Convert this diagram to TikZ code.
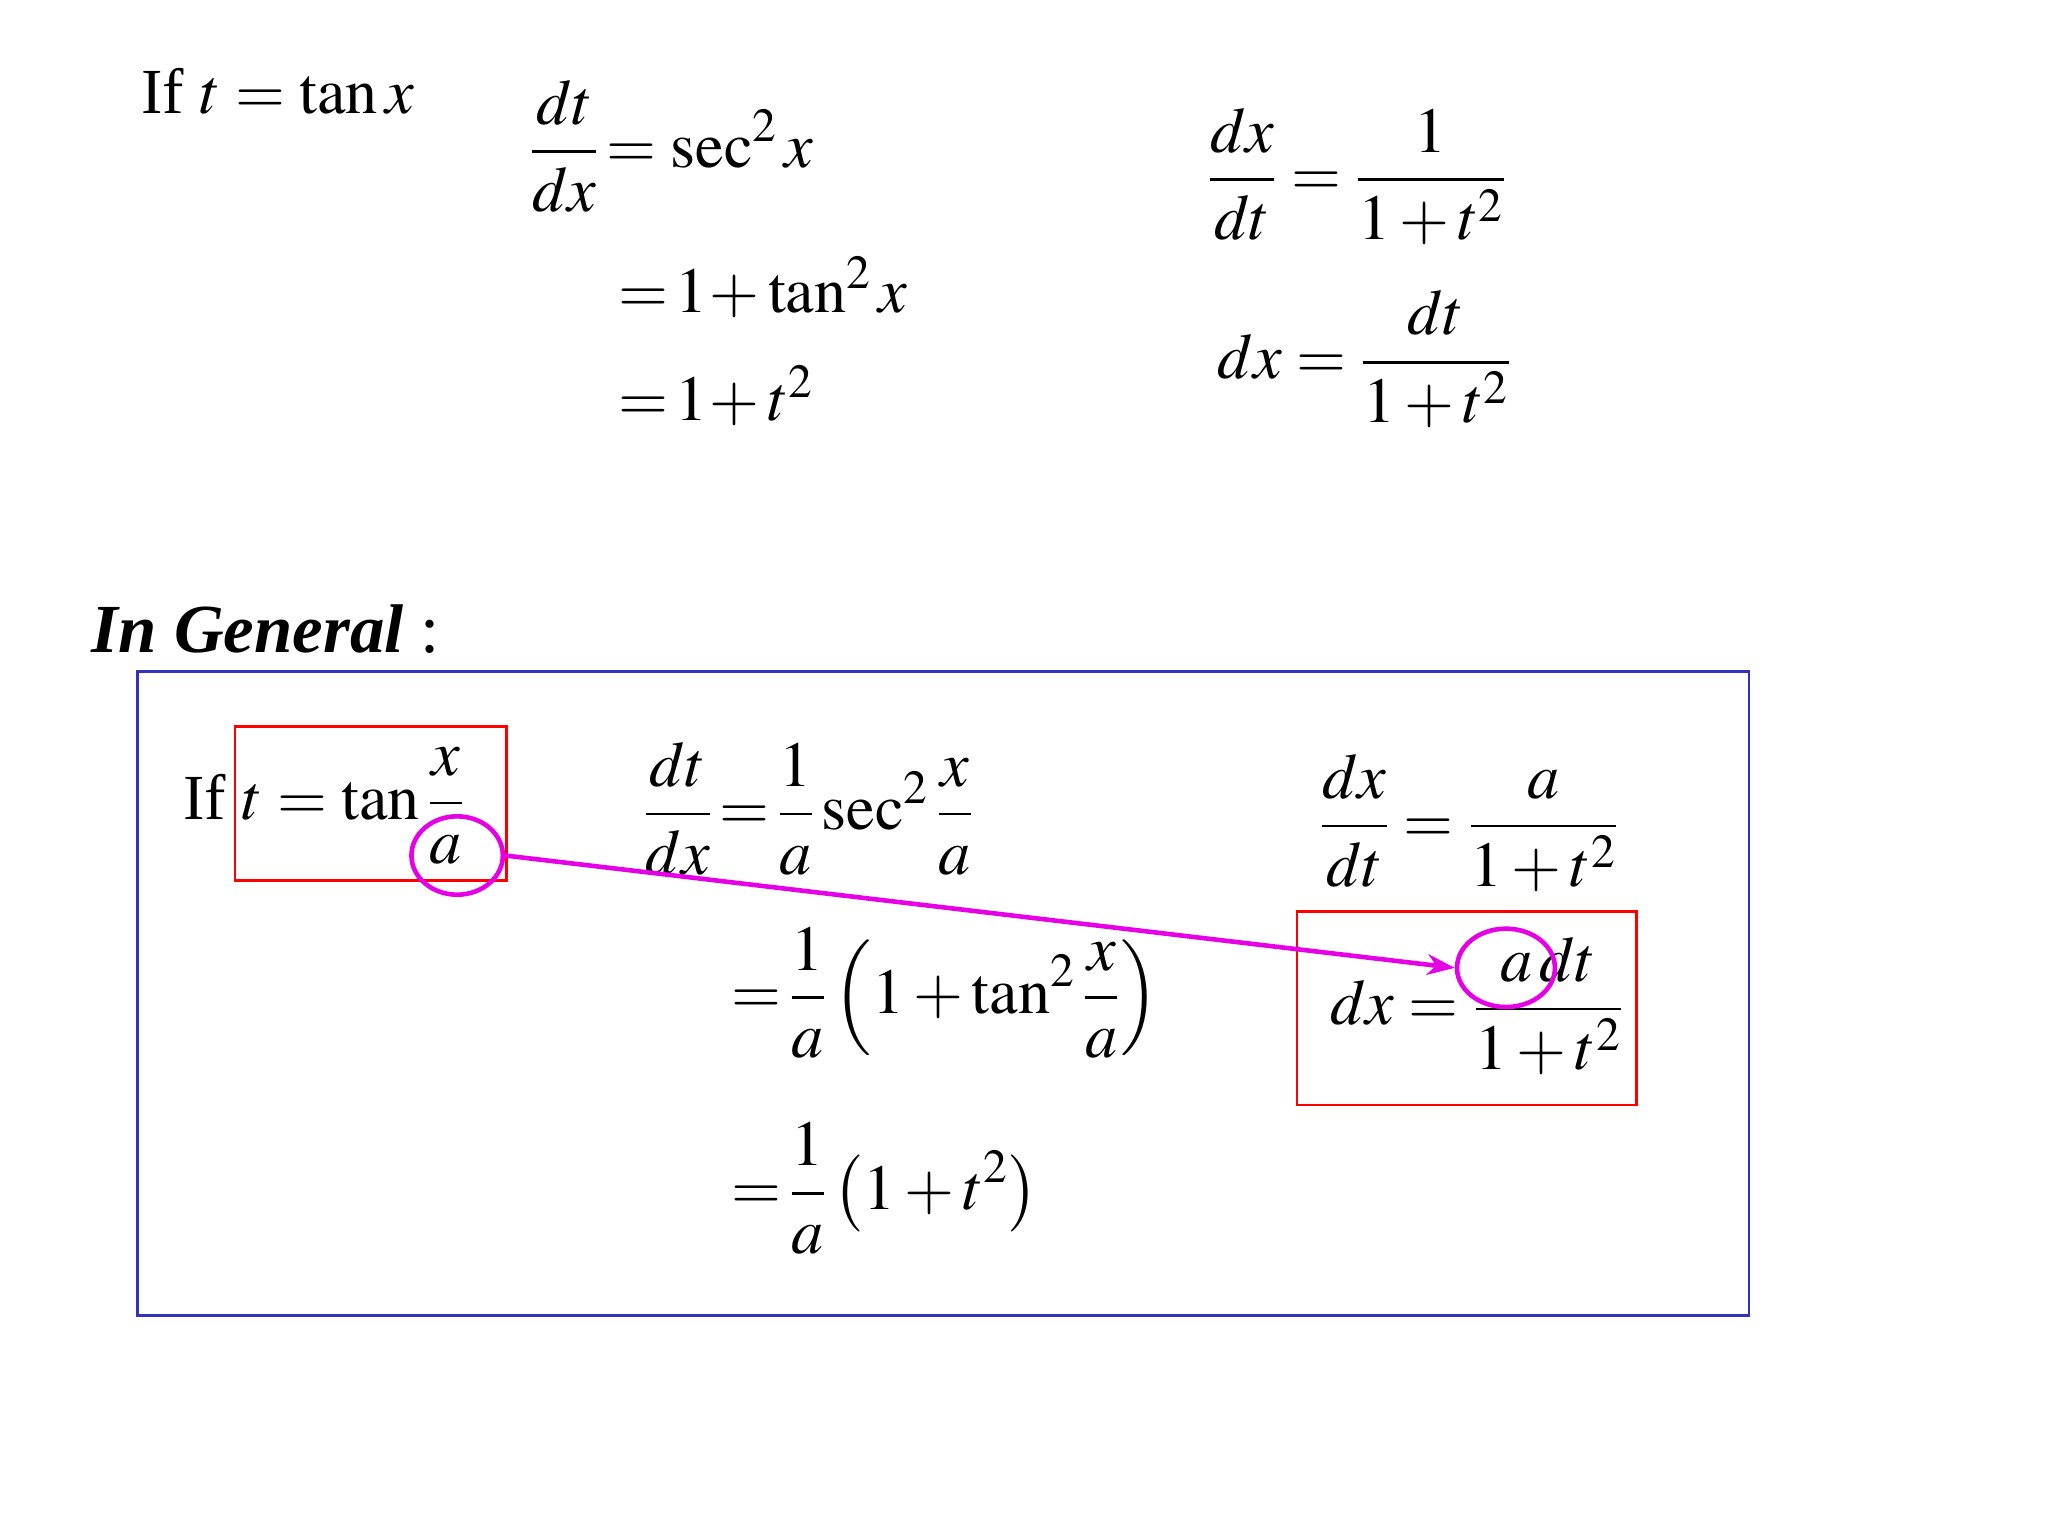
\documentclass[tikz,border=0pt]{standalone}
\usepackage{mathptmx}
\usepackage[no-math]{fontspec}
\setmainfont{Liberation Serif}
\usetikzlibrary{shapes.geometric,arrows.meta}
\definecolor{mag}{RGB}{230,0,230}
\begin{document}
\begin{tikzpicture}[x=0.02cm,y=-0.02cm,
  eq/.style={inner sep=0pt,font=\fontsize{28}{34}\selectfont},
  redbox/.style={draw=red,line width=1.2pt},
  ring/.style={draw=mag,line width=2pt,ellipse,inner sep=0pt}]
\useasboundingbox (0,0) rectangle (1568,1176);
\node[eq,anchor=west] (t1) at (108,70) {If $t=\tan x$};
\node[eq,anchor=west] (e1) at (405,112) {$\displaystyle \frac{dt}{dx}\,{=}\,\sec^2 x$};
\node[eq,anchor=west] (e2) at (473,220) {$=\!1\!+\tan^2 x$};
\node[eq,anchor=west] (e3) at (473,303) {$=\!1\!+t^2$};
\node[eq,anchor=west] (e4) at (924,135) {$\displaystyle \frac{dx}{dt}=\frac{1}{1+t^2}$};
\node[eq,anchor=west] (e5) at (932,275) {$\displaystyle dx=\frac{dt}{1+t^2}$};
\node[eq,anchor=west,font=\fontsize{30}{36}\selectfont] (g) at (70,482) {\textbf{\textit{In General}} :};
\draw[draw={rgb,255:red,50;green,50;blue,190},line width=1.2pt] (105,514) rectangle (1339,1007);
\draw[redbox] (180,556) rectangle (388,674);
\draw[redbox] (993,698) rectangle (1253,846);
\node[eq,anchor=west] (f1) at (140,617) {If $\displaystyle t=\tan\frac{x}{a}$};
\node[eq,anchor=west] (f2) at (492,619) {$\displaystyle \frac{dt}{dx}\,{=}\,\frac{1}{a}\sec^2\frac{x}{a}$};
\node[eq,anchor=west] (f3) at (560,760) {$\displaystyle {=}\,\frac{1}{a}\left(1+\tan^2\frac{x}{a}\right)$};
\node[eq,anchor=west] (f4) at (560,910) {$\displaystyle {=}\,\frac{1}{a}\left(1+t^2\right)$};
\node[eq,anchor=west] (f5) at (1010,630) {$\displaystyle \frac{dx}{dt}=\frac{a}{1+t^2}$};
\node[eq,anchor=west] (f6) at (1018,770) {$\displaystyle dx=\frac{a\,dt}{1+t^2}$};
\node[ring,minimum width=1.4cm,minimum height=1.2cm] (r1) at (350,655) {};
\node[ring,minimum width=1.5cm,minimum height=1.2cm] (r2) at (1153,741) {};
\draw[mag,line width=2pt,-{Stealth[length=12pt]}] (r1.east) -- (r2.west);
\end{tikzpicture}
\end{document}
